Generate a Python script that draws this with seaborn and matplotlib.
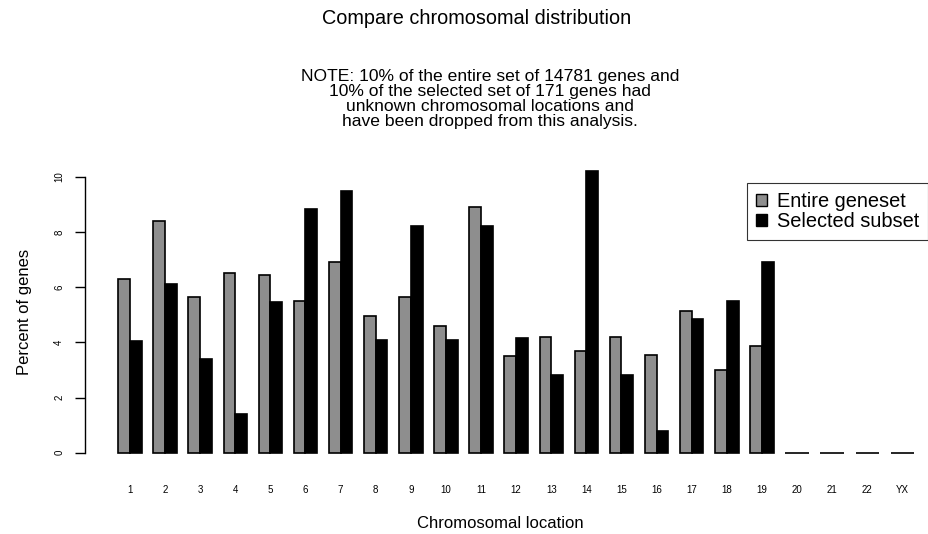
import matplotlib
matplotlib.use("Agg")
import matplotlib.pyplot as plt
import matplotlib.patches as mpatches
import seaborn as sns
import pandas as pd

# values (percent of genes per chromosome)
chromosomes = ["1", "2", "3", "4", "5", "6", "7", "8", "9", "10", "11", "12",
               "13", "14", "15", "16", "17", "18", "19", "20", "21", "22", "YX"]
entire_pct = [6.3, 8.4, 5.65, 6.5, 6.45, 5.5, 6.9, 4.95, 5.65, 4.6, 8.9, 3.5,
              4.2, 3.7, 4.2, 3.55, 5.15, 3.0, 3.85, 0.0, 0.0, 0.0, 0.0]
selected_pct = [4.05, 6.1, 3.4, 1.4, 5.45, 8.85, 9.5, 4.1, 8.2, 4.1, 8.2, 4.15,
                2.8, 10.2, 2.8, 0.8, 4.85, 5.5, 6.9, 0.0, 0.0, 0.0, 0.0]
set_names = ["Entire geneset", "Selected subset"]
y_ticks = [0, 2, 4, 6, 8, 10]

note = ("NOTE: 10% of the entire set of 14781 genes and\n"
        "10% of the selected set of 171 genes had\n"
        "unknown chromosomal locations and\n"
        "have been dropped from this analysis.")

df = pd.DataFrame({
    "chrom": chromosomes * 2,
    "pct": entire_pct + selected_pct,
    "set": [set_names[0]] * len(chromosomes) + [set_names[1]] * len(chromosomes),
})

sns.set_style("white")
plt.rcParams["font.family"] = ["Liberation Sans", "DejaVu Sans"]
plt.rcParams["text.color"] = "black"
plt.rcParams["axes.labelcolor"] = "black"
plt.rcParams["xtick.color"] = "black"
plt.rcParams["ytick.color"] = "black"

colors = {set_names[0]: "#8e8e8e", set_names[1]: "black"}

fig = plt.figure(figsize=(9.29, 5.34), dpi=100)
ax = fig.add_axes([85 / 929, 1 - 464 / 534, 830 / 929, 304 / 534])

sns.barplot(data=df, x="chrom", y="pct", hue="set", order=chromosomes,
            hue_order=set_names, palette=colors, width=2 / 3, gap=0,
            edgecolor="black", linewidth=1.2, legend=False, ax=ax)

ax.set_xlim(-1.28, 22.36)
ax.set_ylim(-0.41, 10.61)

for side in ["top", "right", "bottom"]:
    ax.spines[side].set_visible(False)
ax.spines["left"].set_bounds(0, 10)
ax.spines["left"].set_linewidth(1.0)
ax.spines["left"].set_color("black")

ax.set_yticks(y_ticks)
ax.set_yticklabels([str(t) for t in y_ticks], rotation=90, va="center", fontsize=7)
ax.tick_params(axis="y", left=True, direction="out", length=7, width=1.0, pad=8)
ax.tick_params(axis="x", bottom=False, length=0, pad=15, labelsize=7)

ax.set_xlabel("Chromosomal location", fontsize=12, labelpad=15)
ax.set_ylabel("Percent of genes", fontsize=12, labelpad=16)

fig.text(477 / 929, 1 - 18 / 534, "Compare chromosomal distribution",
         ha="center", va="center", fontsize=14.3)
fig.text(490 / 929, 1 - 99 / 534, note, ha="center", va="center",
         fontsize=12.6, linespacing=0.98)

handles = [mpatches.Patch(facecolor=colors[n], edgecolor="black", label=n)
           for n in set_names]
leg = fig.legend(handles=handles, loc="upper right",
                 bbox_to_anchor=(928 / 929, 1 - 183 / 534), frameon=True,
                 fancybox=False, fontsize=14.4, handlelength=0.55,
                 handleheight=0.55, handletextpad=0.5, labelspacing=0.05,
                 borderpad=0.45, borderaxespad=0)
leg.get_frame().set_edgecolor("black")
leg.get_frame().set_linewidth(0.8)

fig.savefig("out.png", dpi=100, facecolor="white")
